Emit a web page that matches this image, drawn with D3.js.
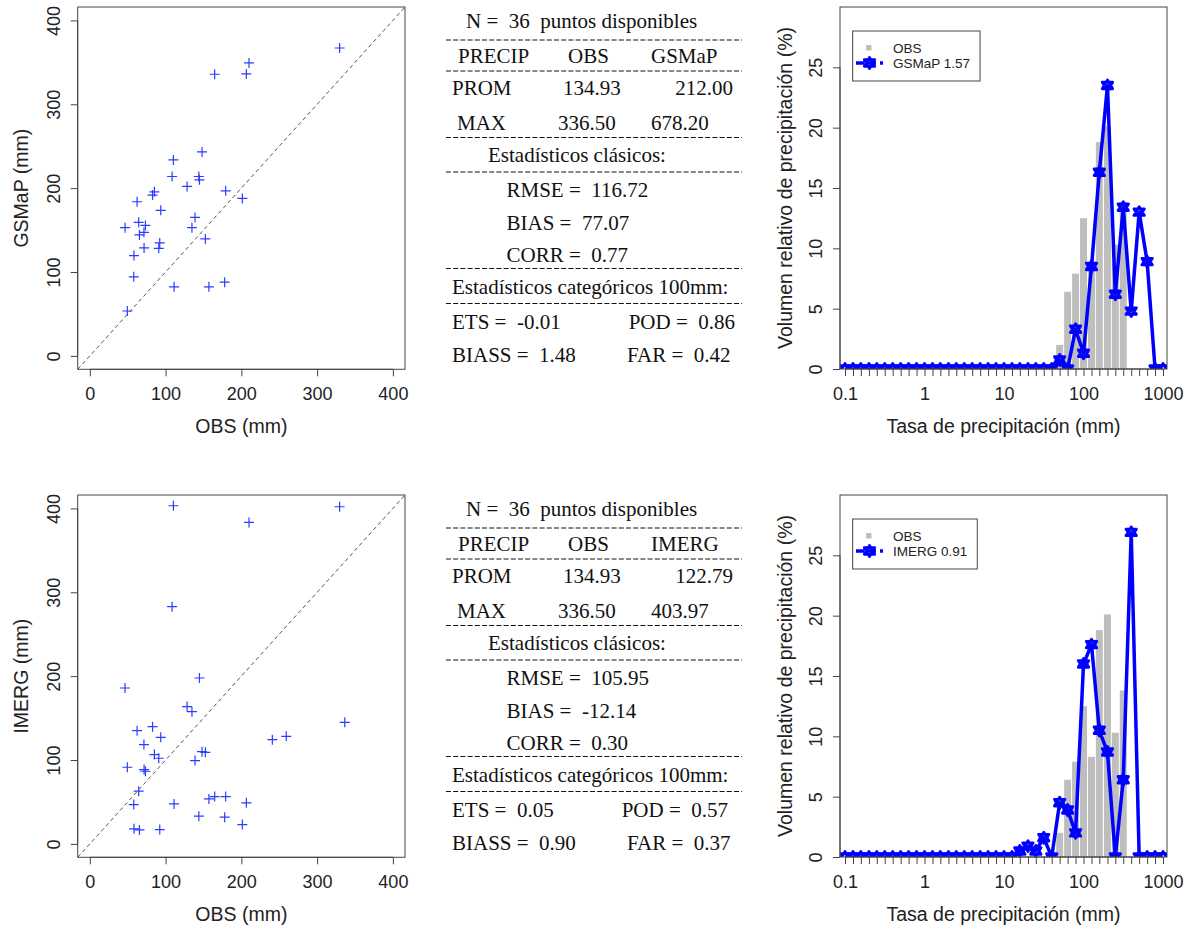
<!DOCTYPE html>
<html>
<head>
<meta charset="utf-8">
<script src="https://cdn.jsdelivr.net/npm/d3@7"></script>
<style>
  body { margin: 0; background: #fff; }
  text { white-space: pre; }
</style>
</head>
<body>
<div id="chart"></div>
<script>
// --- scatter data (36 stations, mm) ---
const obs = [46.5, 49.5, 58, 58.3, 62.4, 64.5, 65.5, 71.4, 71.6, 73.4, 82.8, 85.2, 91, 92.3, 93.6, 108.6, 110.3, 111.2,
  128.4, 134.8, 138.9, 143.9, 144.7, 148.1, 152.5, 157.2, 164.8, 178, 179.3, 201.3, 206.6, 210.1, 240.9, 259.3, 329.7, 336.5];
const gsmap = [152.9, 53.5, 94.3, 119.6, 183.8, 159.2, 144.2, 147.3, 128.7, 155.6, 191.7, 195.6, 128.3, 134.7, 173.5, 213.9, 233.7, 82.4,
  202, 152.9, 165.1, 213.9, 209.9, 243.2, 139.4, 82.4, 335.8, 87.9, 196.8, 187.7, 336.2, 349.3, 500, 491, 367.1, 678.2];
const imerg = [185.9, 91.4, 46.9, 17.9, 135, 62.8, 16.7, 118.4, 88.6, 86.6, 139.8, 106.5, 102.1, 17.1, 127.1, 282.8, 403.2, 47.7,
  163.7, 157.7, 99.3, 33, 197.8, 110, 109.2, 53.6, 56.4, 31.8, 56.4, 23, 48.9, 383.3, 124.3, 128.3, 402, 145];
const scatterTicks = [0, 100, 200, 300, 400];

// --- histogram data: relative volume (%) per rate bin (mm) ---
const binCenters = [0.1, 0.126, 0.158, 0.2, 0.251, 0.316, 0.398, 0.501, 0.631, 0.794,
  1, 1.26, 1.58, 2, 2.51, 3.16, 3.98, 5.01, 6.31, 7.94,
  10, 12.6, 15.8, 20, 25.1, 31.6, 39.8, 50.1, 63.1, 79.4,
  100, 126, 158, 200, 251, 316, 398, 501, 631, 794, 1000];
const obsVol = [0, 0, 0, 0, 0, 0, 0, 0, 0, 0,  0, 0, 0, 0, 0, 0, 0, 0, 0, 0,
  0, 0, 0, 0, 0, 0, 0, 2.0, 6.4, 7.9,  12.5, 8.3, 18.8, 20.1, 10.3, 13.8, 0, 0, 0, 0, 0];
const gsmapVol = [0, 0, 0, 0, 0, 0, 0, 0, 0, 0,  0, 0, 0, 0, 0, 0, 0, 0, 0, 0,
  0, 0, 0, 0, 0, 0, 0, 0.75, 0, 3.3,  1.3, 8.5, 16.3, 23.5, 6.2, 13.4, 4.8, 13.0, 8.9, 0, 0];
const imergVol = [0, 0, 0, 0, 0, 0, 0, 0, 0, 0,  0, 0, 0, 0, 0, 0, 0, 0, 0, 0,
  0, 0, 0.5, 0.9, 0.5, 1.6, 0, 4.5, 3.9, 2.0,  16.0, 17.6, 10.5, 8.7, 0, 6.4, 26.9, 0, 0, 0, 0];
const histTickLabels = [0.1, 1, 10, 100, 1000];
const histYTicks = [0, 5, 10, 15, 20, 25];

// --- summary statistics ---
const products = ['GSMaP', 'IMERG'];
const nPoints = 36;
const obsProm = 134.93;
const obsMax = 336.50;
const statProm = [212.00, 122.79];
const statMax = [678.20, 403.97];
const statRmse = [116.72, 105.95];
const statBias = [77.07, -12.14];
const statCorr = [0.77, 0.30];
const statEts = [-0.01, 0.05];
const statPod = [0.86, 0.57];
const statBiass = [1.48, 0.90];
const statFar = [0.42, 0.37];
const volRatio = [1.57, 0.91];

const width = 1192, height = 929;
const rowOffset = 488;
const sans = '"Liberation Sans", Arial, Helvetica, sans-serif';
const serif = '"Liberation Serif", "Times New Roman", serif';
const axisColor = '#444';
const textColor = '#222';
const titleSize = 19.5;

const svg = d3.select('#chart')
  .append('svg')
  .attr('width', width)
  .attr('height', height)
  .style('background-color', '#fff');

function styleAxis(a) {
  a.selectAll('line').attr('stroke', axisColor);
  a.selectAll('.domain').attr('stroke', axisColor);
  a.selectAll('text').attr('fill', textColor).attr('font-family', sans).attr('font-size', 18);
}

function rotateYLabels(a, off) {
  a.selectAll('.tick text')
    .attr('transform', 'rotate(-90)')
    .attr('x', 0)
    .attr('y', -off)
    .attr('dy', 0)
    .attr('text-anchor', 'middle');
}

function drawScatter(g, sat, name, id) {
  const box = { left: 77.7, right: 405, top: 7, bottom: 369.3 };
  const x = d3.scaleLinear().domain([-16, 416]).range([box.left, box.right]);
  const y = d3.scaleLinear().domain([-16, 416]).range([box.bottom, box.top]);

  g.append('clipPath').attr('id', id)
    .append('rect')
    .attr('x', box.left).attr('y', box.top)
    .attr('width', box.right - box.left).attr('height', box.bottom - box.top);

  const plot = g.append('g').attr('clip-path', `url(#${id})`);

  // 1:1 line
  plot.append('line')
    .attr('x1', x(-16)).attr('y1', y(-16))
    .attr('x2', x(416)).attr('y2', y(416))
    .attr('stroke', '#555')
    .attr('stroke-width', 1)
    .attr('stroke-dasharray', '4,3');

  const pts = obs.map((o, i) => [o, sat[i]]);
  plot.append('g')
    .attr('stroke', '#2a3cff')
    .attr('stroke-width', 1.2)
    .selectAll('path')
    .data(pts)
    .join('path')
      .attr('d', d => `M${x(d[0]) - 5},${y(d[1])}h10M${x(d[0])},${y(d[1]) - 5}v10`);

  g.append('rect')
    .attr('x', box.left).attr('y', box.top)
    .attr('width', box.right - box.left).attr('height', box.bottom - box.top)
    .attr('fill', 'none').attr('stroke', axisColor);

  g.append('g')
    .attr('transform', `translate(0,${box.bottom})`)
    .call(d3.axisBottom(x).tickValues(scatterTicks).tickSize(7).tickPadding(11).tickSizeOuter(0))
    .call(a => a.select('.domain').attr('d', `M${x(0)},0H${x(400)}`))
    .call(styleAxis);

  g.append('g')
    .attr('transform', `translate(${box.left},0)`)
    .call(d3.axisLeft(y).tickValues(scatterTicks).tickSize(7).tickSizeOuter(0))
    .call(a => a.select('.domain').attr('d', `M0,${y(0)}V${y(400)}`))
    .call(styleAxis)
    .call(a => rotateYLabels(a, 18));

  g.append('text')
    .attr('x', (box.left + box.right) / 2).attr('y', 433)
    .attr('text-anchor', 'middle')
    .attr('font-family', sans).attr('font-size', titleSize).attr('fill', textColor)
    .text('OBS (mm)');

  g.append('text')
    .attr('transform', `translate(28,${(box.top + box.bottom) / 2}) rotate(-90)`)
    .attr('text-anchor', 'middle')
    .attr('font-family', sans).attr('font-size', titleSize).attr('fill', textColor)
    .text(`${name} (mm)`);
}

function drawTable(g, k) {
  const t = (tx, ty, s, anchor) => g.append('text')
    .attr('x', tx).attr('y', ty)
    .attr('text-anchor', anchor || 'start')
    .attr('font-family', serif).attr('font-size', 21).attr('fill', '#111')
    .text(s);
  const dash = ty => g.append('line')
    .attr('x1', 446).attr('x2', 742).attr('y1', ty).attr('y2', ty)
    .attr('stroke', '#111').attr('stroke-width', 1).attr('stroke-dasharray', '5,2.2');
  const f = v => v.toFixed(2);

  t(466, 28, `N =  ${nPoints}  puntos disponibles`);
  dash(40);
  t(458, 63, 'PRECIP');
  t(568, 63, 'OBS');
  t(651, 63, products[k]);
  dash(71);
  t(452, 94.5, 'PROM');
  t(563, 94.5, f(obsProm));
  t(733, 94.5, f(statProm[k]), 'end');
  t(457, 129.5, 'MAX');
  t(558, 129.5, f(obsMax));
  t(651, 129.5, f(statMax[k]));
  dash(137.5);
  t(488, 162, 'Estadísticos clásicos:');
  dash(172);
  t(506.5, 197, `RMSE =  ${f(statRmse[k])}`);
  t(506.5, 230, `BIAS =  ${f(statBias[k])}`);
  t(506.5, 262, `CORR =  ${f(statCorr[k])}`);
  dash(268.5);
  t(452, 293.5, 'Estadísticos categóricos 100mm:');
  dash(303.5);
  const ets = t(452, 328.5, `ETS =  ${f(statEts[k])}`);
  t(452 + ets.node().getComputedTextLength() + 68, 328.5, `POD =  ${f(statPod[k])}`);
  const bs = t(452, 362, `BIASS =  ${f(statBiass[k])}`);
  t(452 + bs.node().getComputedTextLength() + 51, 362, `FAR =  ${f(statFar[k])}`);
}

function marker(sel) {
  // two overlapping triangles
  const r = 5.5;
  sel.append('path')
    .attr('d', `M0,${-r}L${r * 0.95},${r * 0.6}L${-r * 0.95},${r * 0.6}Z M0,${r}L${r * 0.95},${-r * 0.6}L${-r * 0.95},${-r * 0.6}Z`)
    .attr('fill', 'none')
    .attr('stroke', '#0000ff')
    .attr('stroke-width', 2.8)
    .attr('stroke-linejoin', 'round');
}

function drawHist(g, satVol, name, k, id) {
  const box = { left: 840, right: 1167, top: 7, bottom: 369 };
  const x = d3.scaleLog().domain([0.0865, 1122]).range([box.left, box.right]);
  const y = d3.scaleLinear().domain([0, 30]).range([box.bottom, box.top]);

  g.append('clipPath').attr('id', id)
    .append('rect')
    .attr('x', box.left).attr('y', box.top)
    .attr('width', box.right - box.left).attr('height', box.bottom - box.top);

  const plot = g.append('g').attr('clip-path', `url(#${id})`);

  const step = (x(binCenters[1]) - x(binCenters[0]));
  plot.append('g')
    .attr('fill', '#bebebe')
    .selectAll('rect')
    .data(binCenters.map((c, i) => [c, obsVol[i]]).filter(d => d[1] > 0))
    .join('rect')
      .attr('x', d => x(d[0]) - step / 2 + 0.5)
      .attr('width', step - 1)
      .attr('y', d => y(d[1]))
      .attr('height', d => y(0) - y(d[1]));

  const line = d3.line()
    .x((d, i) => x(binCenters[i]))
    .y(d => y(d));

  plot.append('path')
    .datum(satVol)
    .attr('fill', 'none')
    .attr('stroke', '#0000ff')
    .attr('stroke-width', 3.5)
    .attr('stroke-linejoin', 'round')
    .attr('d', line);

  plot.append('g')
    .selectAll('g')
    .data(satVol)
    .join('g')
      .attr('transform', (d, i) => `translate(${x(binCenters[i])},${y(d)})`)
      .each(function () { marker(d3.select(this)); });

  g.append('rect')
    .attr('x', box.left).attr('y', box.top)
    .attr('width', box.right - box.left).attr('height', box.bottom - box.top)
    .attr('fill', 'none').attr('stroke', axisColor);

  g.append('g')
    .attr('transform', `translate(0,${box.bottom})`)
    .call(d3.axisBottom(x).tickValues(binCenters).tickSize(7).tickPadding(11).tickSizeOuter(0)
      .tickFormat(d => histTickLabels.includes(d) ? String(d) : ''))
    .call(a => a.select('.domain').attr('d', `M${x(binCenters[0])},0H${x(binCenters[binCenters.length - 1])}`))
    .call(styleAxis);

  g.append('g')
    .attr('transform', `translate(${box.left},0)`)
    .call(d3.axisLeft(y).tickValues(histYTicks).tickSize(7).tickSizeOuter(0))
    .call(a => a.select('.domain').attr('d', `M0,${y(0)}V${y(25)}`))
    .call(styleAxis)
    .call(a => rotateYLabels(a, 18));

  g.append('text')
    .attr('x', (box.left + box.right) / 2).attr('y', 433)
    .attr('text-anchor', 'middle')
    .attr('font-family', sans).attr('font-size', titleSize).attr('fill', textColor)
    .text('Tasa de precipitación (mm)');

  g.append('text')
    .attr('transform', `translate(792,${(box.top + box.bottom) / 2}) rotate(-90)`)
    .attr('text-anchor', 'middle')
    .attr('font-family', sans).attr('font-size', titleSize).attr('fill', textColor)
    .text('Volumen relativo de precipitación (%)');

  // legend
  const lg = g.append('g');
  const lgBox = lg.append('rect')
    .attr('x', 852.7).attr('y', 31).attr('height', 50)
    .attr('fill', '#fff').attr('stroke', axisColor);
  lg.append('rect')
    .attr('x', 866).attr('y', 45).attr('width', 5.5).attr('height', 5.5)
    .attr('fill', '#bebebe');
  const t1 = lg.append('text')
    .attr('x', 893).attr('y', 53)
    .attr('font-family', sans).attr('font-size', 13.5).attr('fill', textColor)
    .text('OBS');
  lg.append('line')
    .attr('x1', 856).attr('x2', 883).attr('y1', 63).attr('y2', 63)
    .attr('stroke', '#0000ff').attr('stroke-width', 3.5)
    .attr('stroke-dasharray', '8,4');
  lg.append('g').attr('transform', 'translate(869.5,63)').call(marker);
  const t2 = lg.append('text')
    .attr('x', 893).attr('y', 67.5)
    .attr('font-family', sans).attr('font-size', 13.5).attr('fill', textColor)
    .text(`${name} ${volRatio[k].toFixed(2)}`);
  const tw = Math.max(t1.node().getComputedTextLength(), t2.node().getComputedTextLength());
  lgBox.attr('width', 893 + tw + 10 - 852.7);
}

products.forEach((name, k) => {
  const g = svg.append('g').attr('transform', `translate(0,${k * rowOffset})`);
  const sat = k === 0 ? gsmap : imerg;
  const vol = k === 0 ? gsmapVol : imergVol;
  drawScatter(g, sat, name, `clipS${k}`);
  drawTable(g, k);
  drawHist(g, vol, name, k, `clipH${k}`);
});
</script>
</body>
</html>
